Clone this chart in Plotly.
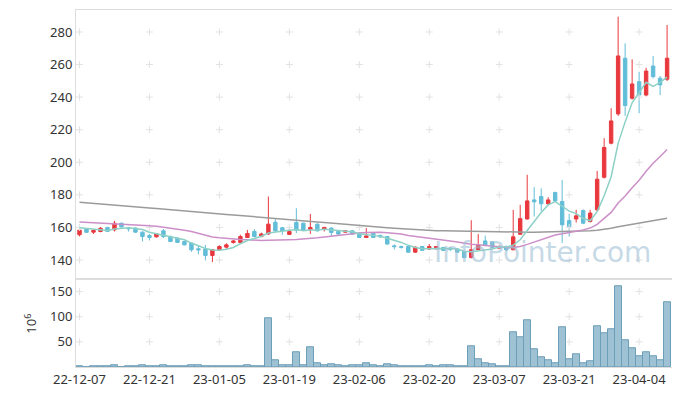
import plotly.graph_objects as go

dates = [
    "2022-12-07","2022-12-08","2022-12-09","2022-12-12","2022-12-13","2022-12-14","2022-12-15","2022-12-16",
    "2022-12-19","2022-12-20","2022-12-21","2022-12-22","2022-12-23","2022-12-26","2022-12-27","2022-12-28",
    "2022-12-29","2023-01-02","2023-01-03","2023-01-04","2023-01-05","2023-01-06","2023-01-09","2023-01-10",
    "2023-01-11","2023-01-12","2023-01-13","2023-01-16","2023-01-17","2023-01-18","2023-01-19","2023-01-20",
    "2023-01-25","2023-01-26","2023-01-27","2023-01-30","2023-01-31","2023-02-01","2023-02-02","2023-02-03",
    "2023-02-06","2023-02-07","2023-02-08","2023-02-09","2023-02-10","2023-02-13","2023-02-14","2023-02-15",
    "2023-02-16","2023-02-17","2023-02-20","2023-02-21","2023-02-22","2023-02-23","2023-02-24","2023-02-27",
    "2023-02-28","2023-03-02","2023-03-03","2023-03-06","2023-03-07","2023-03-08","2023-03-09","2023-03-10",
    "2023-03-13","2023-03-14","2023-03-15","2023-03-16","2023-03-17","2023-03-20","2023-03-21","2023-03-22",
    "2023-03-23","2023-03-24","2023-03-27","2023-03-28","2023-03-29","2023-03-30","2023-03-31","2023-04-03",
    "2023-04-04","2023-04-05","2023-04-06","2023-04-07","2023-04-10",
]

opens = [155.5,159.0,157.1,157.5,160.0,158.5,162.6,159.6,159.6,157.1,155.0,154.2,157.9,154.4,153.4,151.4,
         150.4,146.9,146.7,142.8,146.3,147.9,150.8,150.8,153.8,157.5,154.4,156.0,163.2,159.8,155.7,163.0,
         162.6,158.8,162.0,158.8,159.6,157.5,157.1,157.9,156.5,153.8,156.5,155.1,154.4,148.7,148.2,148.3,
         144.8,148.3,146.7,146.9,147.7,147.2,146.8,145.2,141.5,146.3,151.7,151.0,147.3,148.3,146.3,155.8,
         165.2,176.9,179.0,174.5,181.4,175.9,164.2,165.2,170.4,163.6,170.8,190.8,211.7,229.7,263.9,239.3,
         249.5,241.3,259.1,251.6,251.0]
highs = [159.0,159.5,158.6,160.2,160.3,164.0,163.0,160.3,160.0,157.5,156.0,156.5,159.0,155.0,154.0,151.8,
         150.8,149.0,149.3,146.6,149.0,150.3,152.3,155.5,158.5,159.0,156.8,179.0,165.7,160.3,159.3,171.8,
         163.0,168.3,162.5,160.3,160.0,158.0,158.3,158.3,157.0,159.6,157.0,155.5,154.8,149.5,148.8,148.6,
         148.3,148.6,149.9,148.6,148.0,148.0,147.2,145.5,164.4,155.9,155.0,151.5,149.0,148.8,170.8,173.9,
         192.3,184.7,184.0,178.5,182.0,189.2,168.3,170.8,171.0,170.8,194.7,214.8,233.2,289.4,273.0,263.2,
         255.6,258.0,265.3,253.0,284.3]
lows = [154.5,156.5,156.0,157.0,157.3,157.5,160.0,157.5,156.8,151.4,152.0,153.8,153.5,151.0,150.5,149.0,
        145.0,143.5,139.7,138.8,145.9,147.0,150.0,150.5,153.5,154.0,154.0,155.5,157.5,155.5,155.3,156.5,
        158.0,156.0,157.5,157.5,154.4,155.5,156.8,155.5,153.5,153.5,153.5,153.5,149.5,146.5,147.0,144.5,
        144.5,145.5,146.3,146.5,145.5,145.5,144.5,141.0,141.0,146.0,148.5,147.0,147.0,145.5,146.0,155.5,
        164.8,166.7,170.0,173.5,175.5,150.5,154.4,163.0,162.0,163.0,170.0,190.0,211.0,228.5,228.5,238.5,
        230.1,240.5,251.5,241.3,249.9]
closes = [158.3,157.0,158.2,159.5,157.6,162.6,160.3,159.2,157.1,154.4,153.8,156.0,154.4,151.4,150.8,149.3,
          146.3,146.2,142.8,146.3,148.3,149.3,151.7,154.4,156.3,154.4,156.0,162.0,157.9,157.9,157.5,158.3,
          158.5,160.0,157.9,160.0,156.9,155.9,157.9,155.9,153.8,154.8,153.8,154.2,149.8,148.2,147.8,144.8,
          147.9,145.9,148.3,148.3,145.9,146.5,144.8,141.5,146.3,148.9,148.9,147.7,148.3,146.3,154.2,165.4,
          176.3,175.7,174.5,176.9,176.3,161.6,160.5,167.1,162.6,168.8,189.6,209.1,225.4,265.3,234.8,248.1,
          241.3,256.0,252.6,247.5,263.9]

ma5 = [159.8,159.3,158.8,158.5,158.1,159.0,159.6,159.8,159.4,158.7,157.0,156.1,155.1,154.0,153.3,152.4,
       150.4,148.8,147.1,146.2,146.0,146.6,147.7,150.0,152.0,153.2,154.6,156.6,157.3,157.6,158.3,158.7,
       158.0,158.4,158.4,158.9,158.7,158.1,157.7,157.3,156.1,155.7,155.2,154.5,153.3,152.2,150.8,149.0,
       147.7,146.9,146.9,147.0,147.3,147.0,146.8,145.4,145.0,145.6,146.1,146.7,148.0,148.0,149.1,152.4,
       158.1,163.6,169.2,173.8,175.9,173.0,170.0,168.5,165.6,164.1,169.7,179.4,191.1,211.6,224.8,236.5,
       243.0,249.1,246.6,249.1,252.3]
ma20 = [163.4,163.2,163.0,162.8,162.6,162.4,162.2,162.0,161.8,161.5,161.1,160.7,160.2,159.6,159.0,158.3,
        157.5,156.5,155.3,154.1,153.6,153.2,152.9,152.6,152.5,152.1,151.9,152.1,152.1,152.3,152.5,152.6,
        152.8,153.2,153.6,154.1,154.6,155.1,155.9,156.4,156.6,156.9,157.0,157.0,156.7,156.4,156.0,155.1,
        154.6,154.0,153.5,153.0,152.4,151.7,151.1,150.2,149.6,149.3,148.8,148.4,148.1,147.7,147.7,148.3,
        149.6,151.0,152.3,153.9,155.4,156.1,156.7,157.7,158.5,159.6,161.9,165.3,169.2,175.0,179.3,184.3,
        189.0,194.5,199.4,203.5,207.9]
ma60 = [175.5,175.1,174.8,174.4,174.1,173.7,173.4,173.0,172.7,172.3,171.9,171.6,171.2,170.9,170.5,170.2,
        169.8,169.4,169.1,168.7,168.4,168.0,167.7,167.3,166.9,166.6,166.2,165.8,165.5,165.1,164.7,164.4,
        164.0,163.7,163.3,163.0,162.6,162.3,161.9,161.6,161.2,160.9,160.5,160.2,159.8,159.5,159.2,158.8,
        158.5,158.3,158.2,158.0,157.9,157.8,157.7,157.6,157.5,157.4,157.3,157.2,157.2,157.1,157.1,157.1,
        157.1,157.1,157.2,157.2,157.3,157.3,157.4,157.5,157.6,157.9,158.3,158.8,159.5,160.4,161.1,161.8,
        162.6,163.3,164.1,164.9,165.7]

volume = [2,0.5,2,2,2,4,0.5,2,2,4,2,2,4,2,2,2,4,4,2,2,2,2,2,2,4,2,2,97,14,4,4,30,4,40,8,4,6,4,2,4,
          3,8,4,1.5,6,4,2,2,2,2,4,2,4,4,2,2,41,16,8,6,2,2,69,59,93,35,20,14,8,79,16,26,8,12,81,67,75,
          161,53,38,22,30,22,14,129]

tick_dates = dates[::10]
tick_text = [d[2:] for d in tick_dates]
price_ticks = [140, 160, 180, 200, 220, 240, 260, 280]
vol_ticks = [50, 100, 150]

RED = "#e8383e"
BLUE = "#62bdd8"
FONT = "Noto Sans"
GRIDC = "#e2e2e2"

fig = go.Figure()

# grid crosses
fig.add_trace(go.Scatter(
    x=[d for d in tick_dates for _ in price_ticks],
    y=[p for _ in tick_dates for p in price_ticks],
    mode="markers", marker=dict(symbol="cross-thin", size=5, line=dict(color=GRIDC, width=1)),
    xaxis="x2", yaxis="y", hoverinfo="skip", showlegend=False))
fig.add_trace(go.Scatter(
    x=[d for d in tick_dates for _ in vol_ticks],
    y=[p for _ in tick_dates for p in vol_ticks],
    mode="markers", marker=dict(symbol="cross-thin", size=5, line=dict(color=GRIDC, width=1)),
    xaxis="x", yaxis="y2", hoverinfo="skip", showlegend=False))

for vals, col in [(ma60, "#9b9b9b"), (ma20, "#cc8fc8"), (ma5, "#8dd1c6")]:
    fig.add_trace(go.Scatter(x=dates, y=vals, mode="lines", line=dict(color=col, width=1.5),
                             xaxis="x2", yaxis="y", showlegend=False, hoverinfo="skip"))

fig.add_trace(go.Candlestick(
    x=dates, open=opens, high=highs, low=lows, close=closes,
    increasing=dict(line=dict(color=RED, width=1), fillcolor=RED),
    decreasing=dict(line=dict(color=BLUE, width=1), fillcolor=BLUE),
    whiskerwidth=0, xaxis="x2", yaxis="y", showlegend=False))

fig.add_trace(go.Bar(
    x=dates, y=volume, marker=dict(color="rgba(125,172,197,0.75)", line=dict(color="#6c9fb8", width=1)),
    xaxis="x", yaxis="y2", showlegend=False))

# page body has an 8px margin: figure is 672x388 so plot area lands where the reference has it
fig.update_layout(
    width=672, height=388,
    margin=dict(l=68, r=8, t=2, b=29, autoexpand=False),
    paper_bgcolor="white", plot_bgcolor="white",
    font=dict(family=FONT, size=13, color="#333"),
    bargap=0,
    xaxis=dict(type="category", categoryorder="array", categoryarray=dates,
               tickvals=tick_dates, ticktext=tick_text, showgrid=False, automargin=False,
               showline=True, linecolor="#dddddd", mirror=True, ticks="",
               range=[-0.5, len(dates) - 0.3], anchor="y2",
               tickfont=dict(size=13, color="#333"), rangeslider=dict(visible=False)),
    xaxis2=dict(type="category", categoryorder="array", categoryarray=dates,
                matches="x", showticklabels=False, showgrid=False, automargin=False,
                showline=True, linecolor="#dddddd", mirror=True, ticks="",
                anchor="y", rangeslider=dict(visible=False)),
    yaxis=dict(domain=[0.25, 1], range=[129.1, 293.5], tickvals=price_ticks, automargin=False,
               showgrid=False, zeroline=False, showline=True, linecolor="#dddddd", mirror=True,
               ticks="", tickfont=dict(size=13, color="#333")),
    yaxis2=dict(domain=[0, 0.243], range=[0, 172.6], tickvals=vol_ticks, automargin=False,
                showgrid=False, zeroline=False, showline=True, linecolor="#dddddd", mirror=True,
                ticks="", tickfont=dict(size=13, color="#333"),
                title=dict(text="10<sup>6</sup>", font=dict(size=13, color="#333"), standoff=10)),
    annotations=[dict(text="InfoPointer.com", xref="paper", yref="paper", x=0.783, y=0.322,
                      xanchor="center", yanchor="middle",
                      showarrow=False, font=dict(family="DejaVu Sans", size=28,
                                                 color="rgba(160,192,213,0.6)"))],
)

fig.write_html("out.html")
